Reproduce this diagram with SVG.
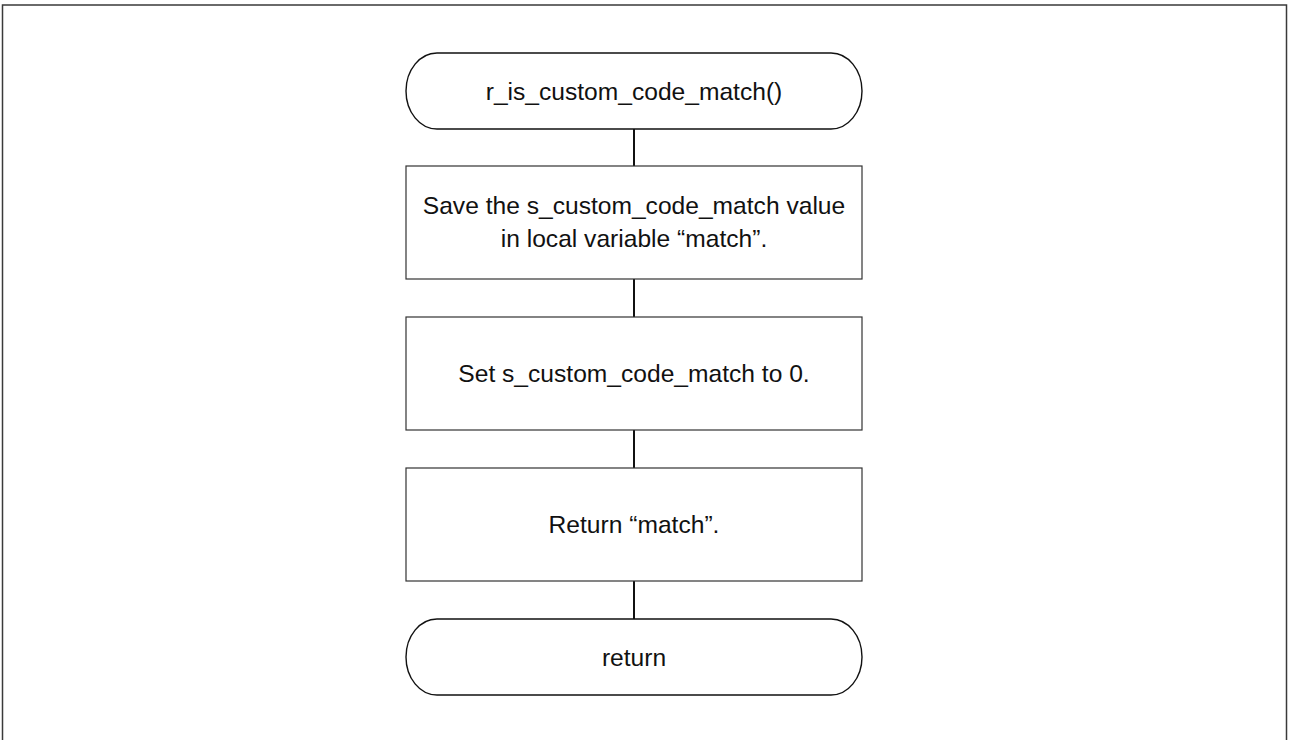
<svg xmlns="http://www.w3.org/2000/svg" width="1292" height="740" viewBox="0 0 1292 740">
<style>
.frame{fill:none;stroke:#3a3a3a;stroke-width:1.5}
.term{fill:#fff;stroke:#111;stroke-width:1.4}
.box{fill:#fff;stroke:#333;stroke-width:1.2}
.conn{stroke:#111;stroke-width:2;fill:none}
text{font-family:"Liberation Sans",Arial,sans-serif;font-size:24.6px;fill:#111;text-anchor:middle}
</style>
<rect width="1292" height="740" fill="#fff"/>
<rect class="frame" x="2.5" y="5" width="1284" height="760"/>
<g id="connectors">
<line class="conn" x1="634" y1="129" x2="634" y2="166"/>
<line class="conn" x1="634" y1="279" x2="634" y2="317"/>
<line class="conn" x1="634" y1="430" x2="634" y2="468"/>
<line class="conn" x1="634" y1="581" x2="634" y2="619"/>
</g>
<g id="start">
<rect class="term" x="406" y="53" width="456" height="76" rx="31" ry="38"/>
<text x="634" y="99.5">r_is_custom_code_match()</text>
</g>
<g id="save">
<rect class="box" x="406" y="166" width="456" height="113"/>
<text x="634" y="214">Save the s_custom_code_match value</text>
<text x="634" y="246.5">in local variable “match”.</text>
</g>
<g id="reset">
<rect class="box" x="406" y="317" width="456" height="113"/>
<text x="634" y="382">Set s_custom_code_match to 0.</text>
</g>
<g id="ret">
<rect class="box" x="406" y="468" width="456" height="113"/>
<text x="634" y="533">Return “match”.</text>
</g>
<g id="end">
<rect class="term" x="406" y="619" width="456" height="76" rx="31" ry="38"/>
<text x="634" y="665.5">return</text>
</g>
</svg>
